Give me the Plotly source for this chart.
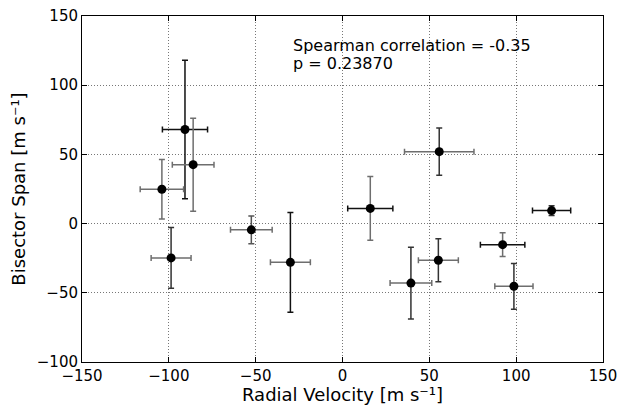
import plotly.graph_objects as go

# Data
rv = [-90.7, -86.0, -104.0, -98.7, -52.5, -30.0, 16.0, 39.4, 55.2, 55.7, 92.2, 98.7, 120.4]
rv_err = [13.0, 12.0, 12.5, 11.5, 12.0, 11.5, 13.0, 12.0, 11.5, 20.0, 12.8, 11.0, 11.0]
bis = [68.0, 42.6, 24.8, -24.8, -4.5, -28.0, 11.0, -43.0, -26.5, 52.0, -15.2, -45.3, 9.4]
bis_err = [50.0, 33.6, 21.5, 22.0, 10.0, 36.0, 23.0, 26.0, 15.6, 17.0, 8.5, 16.5, 3.5]
stat_lines = ["Spearman correlation = -0.35", "p = 0.23870"]

# Styles (error bar colours per point)
BLACK = "#111111"
GRAY = "#6e6e6e"
xcol = [BLACK, GRAY, GRAY, GRAY, GRAY, GRAY, BLACK, GRAY, GRAY, GRAY, BLACK, GRAY, BLACK]
ycol = [BLACK, GRAY, GRAY, "#333333", "#555555", BLACK, GRAY, "#333333", "#333333", "#333333", GRAY, "#333333", "#333333"]

fig = go.Figure()
for i in range(len(rv)):
    fig.add_trace(go.Scatter(
        x=[rv[i]], y=[bis[i]], mode="markers",
        marker=dict(color="black", size=9),
        error_x=dict(type="data", array=[rv_err[i]], color=xcol[i], thickness=1.5, width=3),
        error_y=dict(type="data", array=[bis_err[i]], color=ycol[i], thickness=1.5, width=3),
        showlegend=False, hoverinfo="skip",
    ))

for line, yv in zip(stat_lines, [128.5, 115.5]):
    fig.add_annotation(
        x=-29.5, y=yv, xref="x", yref="y", xanchor="left", yanchor="middle",
        text=line, showarrow=False, align="left",
        font=dict(family="DejaVu Sans", size=16, color="black"),
    )

# x-axis title as annotation (placed precisely below tick labels)
fig.add_annotation(
    x=0.5, y=-0.095, xref="paper", yref="paper", xanchor="center", yanchor="middle",
    text="Radial Velocity [m s\u207b\u00b9]", showarrow=False,
    font=dict(family="DejaVu Sans", size=18, color="black"),
)

axis_common = dict(
    showline=True, linecolor="black", linewidth=1, mirror="ticks",
    ticks="inside", ticklen=5, tickcolor="black", tickwidth=1,
    showgrid=True, gridcolor="#777777", griddash="1px,2px", gridwidth=1,
    zeroline=False, automargin=False, ticklabeloverflow="allow",
    tickfont=dict(family="DejaVu Sans", size=15, color="black"),
)

fig.update_layout(
    width=631, height=405,
    margin=dict(l=74, r=36, t=8, b=51),
    paper_bgcolor="white", plot_bgcolor="white",
    font=dict(family="DejaVu Sans", color="black"),
    xaxis=dict(range=[-150, 150], tickvals=[-150, -100, -50, 0, 50, 100, 150],
               ticktext=["\u2212150", "\u2212100", "\u221250", "0", "50", "100", "150"],
               **axis_common),
    yaxis=dict(range=[-100, 150], tickvals=[-100, -50, 0, 50, 100, 150],
               ticktext=["\u2212100", "\u221250", "0", "50", "100", "150"],
               title=dict(text="Bisector Span [m s\u207b\u00b9]", font=dict(size=18), standoff=6),
               **axis_common),
)

fig.write_html("out.html")
